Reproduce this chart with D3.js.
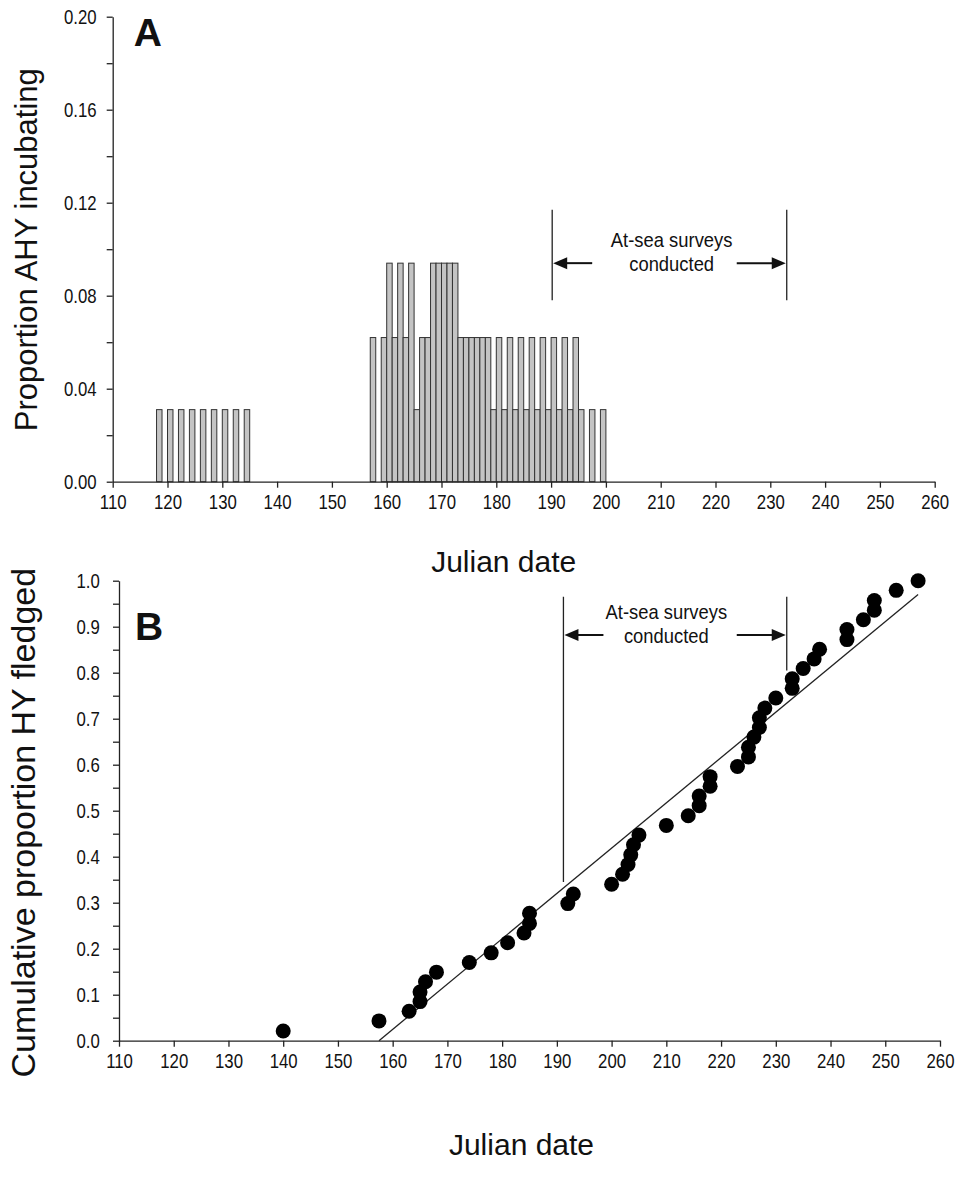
<!DOCTYPE html>
<html>
<head>
<meta charset="utf-8">
<script src="https://cdn.jsdelivr.net/npm/d3@7"></script>
<style>
  body { margin: 0; background: #fff; }
  svg text { font-family: "Liberation Sans", Arial, sans-serif; fill: #111; }
  .axis path, .axis line { stroke: #222; stroke-width: 1.3; }
  /* the source figure is a little stretched vertically */
  .tall { transform-box: fill-box; transform-origin: center; transform: scale(0.84, 1); }
  .tall2 { transform-box: fill-box; transform-origin: center; transform: scale(0.92, 1); }
</style>
</head>
<body>
<div id="chart-container"></div>
<script>
// ---- panel A: proportion of AHY birds incubating, by Julian date
const incubDays = [118, 120, 122, 124, 126, 128, 130, 132, 134,
  157, 159, 160, 161, 162, 163, 164, 165, 166, 167, 168, 169, 170, 171, 172,
  173, 174, 175, 176, 177, 178, 179, 180, 181, 182, 183, 184, 185, 186, 187,
  188, 189, 190, 191, 192, 193, 194, 195, 197, 199];
const incubProp = [0.031, 0.031, 0.031, 0.031, 0.031, 0.031, 0.031, 0.031, 0.031,
  0.062, 0.062, 0.094, 0.062, 0.094, 0.062, 0.094, 0.031, 0.062, 0.062, 0.094, 0.094, 0.094, 0.094, 0.094,
  0.062, 0.062, 0.062, 0.062, 0.062, 0.062, 0.031, 0.062, 0.031, 0.062, 0.031, 0.062, 0.031, 0.062, 0.031,
  0.062, 0.031, 0.062, 0.031, 0.062, 0.031, 0.062, 0.031, 0.031, 0.031];

// ---- panel B: cumulative proportion of HY birds fledged
const fledgeDates = [140, 157.5, 163, 165, 165, 166, 168, 174, 178, 181, 184, 185, 185,
  192, 193, 200, 202, 203, 203.5, 204, 205, 210, 214, 216, 216, 218, 218, 223,
  225, 225, 226, 227, 227, 228, 230, 233, 233, 235, 237, 238, 243, 243, 246,
  248, 248, 252, 256];
const fledgeCum = [0.021, 0.043, 0.064, 0.085, 0.106, 0.128, 0.149, 0.170, 0.191, 0.213, 0.234, 0.255, 0.277,
  0.298, 0.319, 0.340, 0.362, 0.383, 0.404, 0.426, 0.447, 0.468, 0.489, 0.511, 0.532, 0.553, 0.574, 0.596,
  0.617, 0.638, 0.660, 0.681, 0.702, 0.723, 0.745, 0.766, 0.787, 0.809, 0.830, 0.851, 0.872, 0.894, 0.915,
  0.936, 0.957, 0.979, 1.000];
// fitted line end points
const fitDates = [157.5, 256];
const fitCum = [0, 0.97];

// tick values
const xTicks = [110, 120, 130, 140, 150, 160, 170, 180, 190, 200, 210, 220, 230, 240, 250, 260];
const yTicksA = [0, 0.02, 0.04, 0.06, 0.08, 0.10, 0.12, 0.14, 0.16, 0.18, 0.20];
const yLabelsA = [0, 0.04, 0.08, 0.12, 0.16, 0.20];
const yTicksB = [0, 0.05, 0.1, 0.15, 0.2, 0.25, 0.3, 0.35, 0.4, 0.45, 0.5, 0.55, 0.6, 0.65, 0.7, 0.75, 0.8, 0.85, 0.9, 0.95, 1.0];
const yLabelsB = [0, 0.1, 0.2, 0.3, 0.4, 0.5, 0.6, 0.7, 0.8, 0.9, 1.0];

// at-sea survey window (start, end) per panel
const surveyA = [190.2, 233];
const surveyB = [191.2, 232];

const svg = d3.select("#chart-container").append("svg")
  .attr("width", 959)
  .attr("height", 1178);

function drawAxes(g, x, y, yTicks, yLabels, fmt, h, pad) {
  const xAxis = d3.axisBottom(x).tickValues(xTicks).tickSize(6).tickSizeOuter(0).tickPadding(7);
  const yAxis = d3.axisLeft(y).tickValues(yTicks).tickSize(6).tickSizeOuter(0).tickPadding(pad)
    .tickFormat(d => yLabels.some(v => Math.abs(v - d) < 1e-9) ? fmt(d) : "");

  g.append("g").attr("class", "x axis")
    .attr("transform", `translate(0, ${h})`)
    .call(xAxis)
    .selectAll("text").attr("class", "tall").style("font-size", "20px").attr("fill", "#111");

  g.append("g").attr("class", "y axis")
    .call(yAxis)
    .selectAll("text").attr("class", "tall").style("font-size", "20px").attr("fill", "#111");
}

function drawSurvey(g, x, y, span, yTop, yBotL, yBotR, yArrow, textX) {
  const x0 = x(span[0]), x1 = x(span[1]);
  g.append("line").attr("x1", x0).attr("x2", x0).attr("y1", y(yTop)).attr("y2", y(yBotL))
    .attr("stroke", "#222").attr("stroke-width", 1.3);
  g.append("line").attr("x1", x1).attr("x2", x1).attr("y1", y(yTop)).attr("y2", y(yBotR))
    .attr("stroke", "#222").attr("stroke-width", 1.3);

  const ya = y(yArrow);
  const tx = x(textX);
  // left arrow
  g.append("line").attr("x1", x0 + 40).attr("x2", x0 + 10).attr("y1", ya).attr("y2", ya)
    .attr("stroke", "#111").attr("stroke-width", 2);
  g.append("path").attr("d", `M${x0 + 1},${ya} L${x0 + 15},${ya - 6} L${x0 + 15},${ya + 6} Z`).attr("fill", "#111");
  // right arrow
  g.append("line").attr("x1", x1 - 50).attr("x2", x1 - 10).attr("y1", ya).attr("y2", ya)
    .attr("stroke", "#111").attr("stroke-width", 2);
  g.append("path").attr("d", `M${x1 - 1},${ya} L${x1 - 15},${ya - 6} L${x1 - 15},${ya + 6} Z`).attr("fill", "#111");

  g.append("text").attr("class", "tall2").attr("x", tx).attr("y", ya - 16).attr("text-anchor", "middle")
    .style("font-size", "20px").text("At-sea surveys");
  g.append("text").attr("class", "tall2").attr("x", tx).attr("y", ya + 8).attr("text-anchor", "middle")
    .style("font-size", "20px").text("conducted");
}

// ================= Panel A =================
const A = { left: 112.7, top: 16.7, width: 822, height: 465 };
const gA = svg.append("g").attr("transform", `translate(${A.left},${A.top})`);

const xA = d3.scaleLinear().domain([110, 260]).range([0, A.width]);
const yA = d3.scaleLinear().domain([0, 0.20]).range([A.height, 0]);

const barsA = incubDays.map((d, i) => ({ day: d, prop: incubProp[i] }));

gA.selectAll("rect.bar").data(barsA).enter().append("rect")
  .attr("class", "bar")
  .attr("x", d => xA(d.day))
  .attr("width", d => xA(d.day + 1) - xA(d.day))
  .attr("y", d => yA(d.prop))
  .attr("height", d => yA(0) - yA(d.prop))
  .attr("fill", "#c4c4c4")
  .attr("stroke", "#333")
  .attr("stroke-width", 1);

drawAxes(gA, xA, yA, yTicksA, yLabelsA, d3.format(".2f"), A.height, 7);
drawSurvey(gA, xA, yA, surveyA, 0.117, 0.078, 0.078, 0.094, 212);

gA.append("text").attr("x", 21).attr("y", 29)
  .style("font-size", "39px").style("font-weight", "bold").text("A");

gA.append("text")
  .attr("transform", "rotate(-90)")
  .attr("x", -233)
  .attr("y", -76)
  .attr("text-anchor", "middle")
  .style("font-size", "31px")
  .text("Proportion AHY incubating");

gA.append("text")
  .attr("x", A.width / 2 - 20)
  .attr("y", A.height + 90)
  .attr("text-anchor", "middle")
  .style("font-size", "30px")
  .text("Julian date");

// ================= Panel B =================
const B = { left: 119, top: 580.7, width: 821, height: 460 };
const gB = svg.append("g").attr("transform", `translate(${B.left},${B.top})`);

const xB = d3.scaleLinear().domain([110, 260]).range([0, B.width]);
const yB = d3.scaleLinear().domain([0, 1]).range([B.height, 0]);

drawAxes(gB, xB, yB, yTicksB, yLabelsB, d3.format(".1f"), B.height, 11);

gB.append("line")
  .attr("x1", xB(fitDates[0])).attr("y1", yB(fitCum[0]))
  .attr("x2", xB(fitDates[1])).attr("y2", yB(fitCum[1]))
  .attr("stroke", "#222").attr("stroke-width", 1.3);

const ptsB = fledgeDates.map((d, i) => ({ date: d, cum: fledgeCum[i] }));
gB.selectAll("circle").data(ptsB).enter().append("circle")
  .attr("cx", d => xB(d.date))
  .attr("cy", d => yB(d.cum))
  .attr("r", 7.5)
  .attr("fill", "#000");

drawSurvey(gB, xB, yB, surveyB, 0.965, 0.345, 0.805, 0.882, 210);

gB.append("text").attr("x", 16).attr("y", 59)
  .style("font-size", "39px").style("font-weight", "bold").text("B");

gB.append("text")
  .attr("transform", "rotate(-90)")
  .attr("x", -242)
  .attr("y", -84)
  .attr("text-anchor", "middle")
  .style("font-size", "34px")
  .text("Cumulative proportion HY fledged");

gB.append("text")
  .attr("x", B.width / 2 - 8)
  .attr("y", B.height + 114)
  .attr("text-anchor", "middle")
  .style("font-size", "30px")
  .text("Julian date");
</script>
</body>
</html>
